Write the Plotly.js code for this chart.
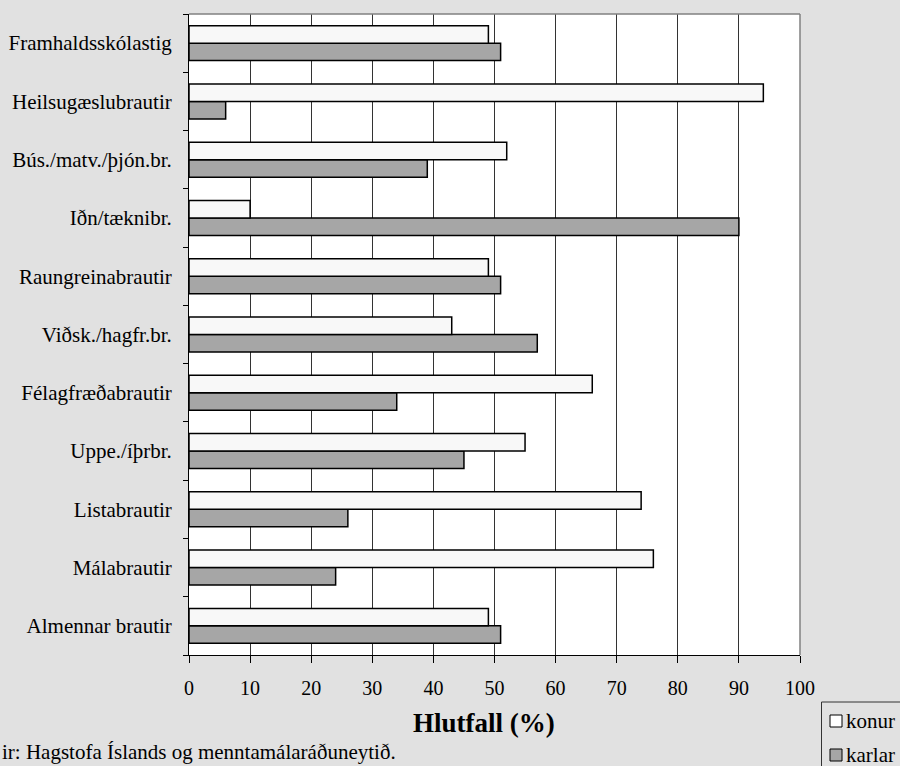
<!DOCTYPE html>
<html>
<head>
<meta charset="utf-8">
<script src="https://cdn.plot.ly/plotly-3.0.1.min.js"></script>
<style>html,body{margin:0;padding:0;background:#e1e1e1;}#chart{width:900px;height:766px;}</style>
</head>
<body>
<div id="chart"></div>
<script>
const categories = ["Almennar brautir","Málabrautir","Listabrautir","Uppe./íþrbr.","Félagfræðabrautir","Viðsk./hagfr.br.","Raungreinabrautir","Iðn/tæknibr.","Bús./matv./þjón.br.","Heilsugæslubrautir","Framhaldsskólastig"];
const konur  = [49, 76, 74, 55, 66, 43, 49, 10, 52, 94, 49];
const karlar = [51, 24, 26, 45, 34, 57, 51, 90, 39, 6, 51];
const seriesNames = ["konur", "karlar"];
const xTicks = [0,10,20,30,40,50,60,70,80,90,100];
const xTitle = "Hlutfall (%)";
const sourceText = "ir: Hagstofa Íslands og menntamálaráðuneytið.";

const font = "'Liberation Serif', 'Times New Roman', Times, 'DejaVu Serif', serif";
const colors = ["#f8f8f8", "#a6a6a6"];
const traces = [
  {type:"bar", orientation:"h", name:seriesNames[1], y:categories, x:karlar,
   marker:{color:colors[1], line:{color:"#000", width:1.5}}, hoverinfo:"x+y"},
  {type:"bar", orientation:"h", name:seriesNames[0], y:categories, x:konur,
   marker:{color:colors[0], line:{color:"#000", width:1.5}}, hoverinfo:"x+y"}
];
// plot area in pixels: left 189, right 800, top 14, bottom 655
const L=189, R=800, T=14, B=655;
const px = v => (v-L)/(R-L);
const py = v => (B-v)/(B-T);
const shapes = [
  {type:"line", xref:"paper", yref:"paper", x0:0, x1:1, y0:1, y1:1, line:{color:"#808080", width:1.5}},
  {type:"line", xref:"paper", yref:"paper", x0:1, x1:1, y0:0, y1:1, line:{color:"#808080", width:1.5}},
  {type:"rect", xref:"paper", yref:"paper", x0:px(821.5), x1:px(910), y0:py(702), y1:py(780), line:{color:"#333", width:1}, fillcolor:"rgba(0,0,0,0)"}
];
const annotations = [
  {text:sourceText, xref:"paper", yref:"paper", x:px(0), y:py(752), xanchor:"left", yanchor:"middle",
   showarrow:false, font:{size:21, family:font}},
  {text:"<b>"+xTitle+"</b>", xref:"paper", yref:"paper", x:px(484), y:py(723), xanchor:"center", yanchor:"middle",
   showarrow:false, font:{size:27, family:font}}
];
seriesNames.forEach((n,i)=>{
  const cy = 721 + i*34;
  shapes.push({type:"rect", xref:"paper", yref:"paper", x0:px(830), x1:px(842), y0:py(cy-6), y1:py(cy+6),
    line:{color:"#000", width:1}, fillcolor: i===0 ? "#ffffff" : colors[1]});
  annotations.push({text:n, xref:"paper", yref:"paper", x:px(844), y:py(cy), xanchor:"left", yanchor:"middle",
    showarrow:false, font:{size:21, family:font}});
});
const layout = {
  width:900, height:766,
  paper_bgcolor:"#e1e1e1", plot_bgcolor:"#ffffff",
  margin:{l:L, r:900-R, t:T, b:766-B, autoexpand:false},
  font:{family:font, color:"#000", size:20},
  barmode:"group", bargap:0.4, bargroupgap:0,
  showlegend:false,
  xaxis:{range:[0,100], tickvals:xTicks, ticktext:xTicks.map(String),
    showgrid:true, gridcolor:"#333333", gridwidth:1, zeroline:false,
    showline:true, linecolor:"#000", linewidth:1,
    ticks:"outside", ticklen:7, tickcolor:"#000", ticklabelstandoff:8,
    tickfont:{size:20, family:font}},
  yaxis:{type:"category", categoryorder:"array", categoryarray:categories,
    showgrid:false, zeroline:false, showline:true, linecolor:"#000", linewidth:1,
    ticks:"outside", tickson:"boundaries", ticklen:5, tickcolor:"#000", ticklabelstandoff:12,
    tickfont:{size:21, family:font}},
  shapes: shapes,
  annotations: annotations
};
Plotly.newPlot("chart", traces, layout, {displayModeBar:false, staticPlot:true});
</script>
</body>
</html>
